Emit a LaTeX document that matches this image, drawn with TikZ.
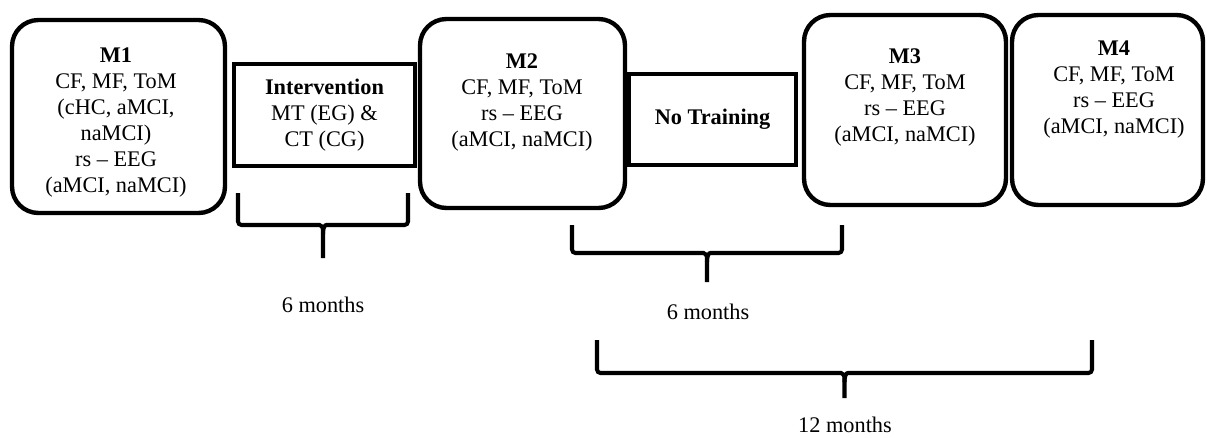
\documentclass[tikz,border=0pt]{standalone}
\usepackage{fontspec}
\setmainfont{Liberation Serif}
\usetikzlibrary{positioning}

% bracket under a stretch of the timeline: left, right, top, bar, tip
\newcommand{\timebrace}[5]{%
  \pgfmathsetmacro{\bmid}{(#1+#2)/2}
  \draw[bracket] (#1,#3) -- (#1,#4) -- (\bmid-7,#4) .. controls (\bmid-2,#4) and (\bmid,#4+2) .. (\bmid,#4+9) -- (\bmid,#5);
  \draw[bracket] (#2,#3) -- (#2,#4) -- (\bmid+7,#4) .. controls (\bmid+2,#4) and (\bmid,#4+2) .. (\bmid,#4+9);
}

\begin{document}
\begin{tikzpicture}[
    x=0.02cm, y=-0.02cm,
    every node/.style={font=\fontsize{12.7}{14.8}\selectfont},
    mbox/.style={draw, line width=2.5pt, rounded corners=15pt},
    sbox/.style={draw, line width=2.6pt, align=center},
    txt/.style={align=center, inner sep=0pt, anchor=north},
    bracket/.style={line width=2.3pt, rounded corners=2pt}
]
    \useasboundingbox (0,0) rectangle (1207,437);

    % measurement points
    \node[mbox, minimum width=4.26cm, minimum height=3.86cm] (m1) at (118.5,116.5) {};
    \node[mbox, minimum width=4.10cm, minimum height=3.78cm] (m2) at (522.5,113.5) {};
    \node[mbox, minimum width=4.04cm, minimum height=3.80cm] (m3) at (905,110) {};
    \node[mbox, minimum width=3.82cm, minimum height=3.80cm] (m4) at (1107.5,110) {};

    \node[txt] (m1txt) at (116,47) {\textbf{M1}\\CF, MF, ToM\\(cHC, aMCI,\\naMCI)\\rs -- EEG\\(aMCI, naMCI)};
    \node[txt] (m2txt) at (522,53) {\textbf{M2}\\CF, MF, ToM\\rs -- EEG\\(aMCI, naMCI)};
    \node[txt] (m3txt) at (905,48) {\textbf{M3}\\CF, MF, ToM\\rs -- EEG\\(aMCI, naMCI)};
    \node[txt] (m4txt) at (1114,40) {\textbf{M4}\\CF, MF, ToM\\rs -- EEG\\(aMCI, naMCI)};

    % between the measurements
    \node[sbox, minimum width=3.62cm, minimum height=2.04cm] (interv) at (324.5,115) {\textbf{Intervention}\\MT (EG) \&\\CT (CG)};
    \node[sbox, minimum width=3.34cm, minimum height=1.82cm] (notrain) at (712.5,119.5) {\textbf{No Training}};

    % durations
    \timebrace{238}{408}{193}{225}{258}
    \timebrace{572}{842}{225}{253}{282}
    \timebrace{597}{1092}{340}{373}{398}
    \node (dur1) at (323,305) {6 months};
    \node (dur2) at (708,312) {6 months};
    \node (dur3) at (845,425) {12 months};
\end{tikzpicture}
\end{document}
